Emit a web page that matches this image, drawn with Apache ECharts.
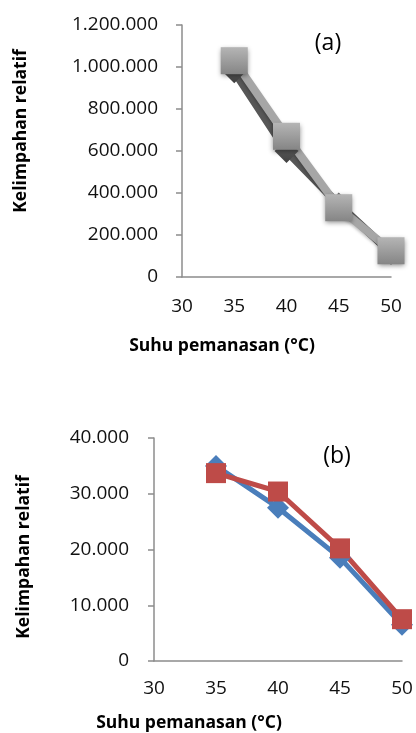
<!DOCTYPE html>
<html>
<head>
<meta charset="utf-8">
<script src="https://cdn.jsdelivr.net/npm/echarts@6/dist/echarts.min.js"></script>
<style>
  html, body { margin: 0; padding: 0; background: #fff; }
  #chart { width: 416px; height: 733px; }
</style>
</head>
<body>
<div id="chart"></div>
<script>
// Heating temperature (°C) on the x axis
const temperatures = [35, 40, 45, 50];
const xAxisMin = 30, xAxisMax = 50, xAxisStep = 5;

// Panel (a): relative abundance
const panelA_dark = [980000, 600000, 345000, 115000];
const panelA_light = [1030000, 670000, 330000, 125000];
const panelA_yMax = 1200000, panelA_yStep = 200000;

// Panel (b): relative abundance
const panelB_blue = [35000, 27500, 18500, 6500];
const panelB_red = [33700, 30400, 20200, 7500];
const panelB_yMax = 40000, panelB_yStep = 10000;

const yTitle = 'Kelimpahan relatif';
const xTitle = 'Suhu pemanasan (°C)';

const FONT = '"Open Sans", sans-serif';
const AXIS_COLOR = '#8c8c8c';

function pairs(xs, ys) { return xs.map((x, i) => [x, ys[i]]); }
function dotted(v) { return String(v).replace(/\B(?=(\d{3})+(?!\d))/g, '.'); }

function xAxisFor(gridIndex, margin) {
  return {
    type: 'value', gridIndex, min: xAxisMin, max: xAxisMax, interval: xAxisStep,
    axisLine: { show: true, onZero: false, lineStyle: { color: AXIS_COLOR, width: 1.5 } },
    axisTick: { show: false },
    splitLine: { show: false },
    axisLabel: { margin, color: '#111', fontFamily: FONT, fontSize: 19 }
  };
}
function yAxisFor(gridIndex, max, step, margin) {
  return {
    type: 'value', gridIndex, min: 0, max, interval: step,
    axisLine: { show: true, lineStyle: { color: AXIS_COLOR, width: 1.5 } },
    axisTick: { show: true, inside: false, length: 6, lineStyle: { color: AXIS_COLOR, width: 1.5 } },
    splitLine: { show: false },
    axisLabel: { margin, color: '#111', fontFamily: FONT, fontSize: 19, formatter: dotted }
  };
}

const grayMarker = new echarts.graphic.LinearGradient(0, 0, 0, 1, [
  { offset: 0, color: '#b5b5b5' }, { offset: 1, color: '#858585' }
]);
const darkMarker = new echarts.graphic.LinearGradient(0, 0, 0, 1, [
  { offset: 0, color: '#6e6e6e' }, { offset: 1, color: '#404040' }
]);

const chart = echarts.init(document.getElementById('chart'), null, { renderer: 'canvas' });

chart.setOption({
  animation: false,
  backgroundColor: '#fff',
  grid: [
    { left: 182, right: 25, top: 25, bottom: 456 },
    { left: 154, right: 14, top: 438, bottom: 72 }
  ],
  xAxis: [xAxisFor(0, 20), xAxisFor(1, 18)],
  yAxis: [
    yAxisFor(0, panelA_yMax, panelA_yStep, 24),
    yAxisFor(1, panelB_yMax, panelB_yStep, 25)
  ],
  series: [
    {
      type: 'line', xAxisIndex: 0, yAxisIndex: 0, clip: false,
      data: pairs(temperatures, panelA_dark),
      lineStyle: { color: '#575757', width: 8 },
      symbol: 'diamond', symbolSize: 24,
      itemStyle: { color: darkMarker }
    },
    {
      type: 'line', xAxisIndex: 0, yAxisIndex: 0, clip: false,
      data: pairs(temperatures, panelA_light),
      lineStyle: { color: '#a6a6a6', width: 8, shadowColor: 'rgba(0,0,0,0.25)', shadowBlur: 3, shadowOffsetY: 2 },
      symbol: 'rect', symbolSize: 27,
      itemStyle: { color: grayMarker, shadowColor: 'rgba(0,0,0,0.45)', shadowBlur: 5, shadowOffsetY: 2 }
    },
    {
      type: 'line', xAxisIndex: 1, yAxisIndex: 1, clip: false,
      data: pairs(temperatures, panelB_blue),
      lineStyle: { color: '#4a7ebb', width: 5 },
      symbol: 'diamond', symbolSize: 22,
      itemStyle: { color: '#4a7ebb' }
    },
    {
      type: 'line', xAxisIndex: 1, yAxisIndex: 1, clip: false,
      data: pairs(temperatures, panelB_red),
      lineStyle: { color: '#be4b48', width: 5 },
      symbol: 'rect', symbolSize: 20,
      itemStyle: { color: '#be4b48' }
    }
  ],
  graphic: [
    { type: 'text', x: 21, y: 131, rotation: Math.PI / 2,
      style: { text: yTitle, font: 'bold 17.5px ' + FONT, fill: '#000', align: 'center', verticalAlign: 'middle' } },
    { type: 'text', x: 222, y: 346,
      style: { text: xTitle, font: 'bold 17.5px ' + FONT, fill: '#000', align: 'center', verticalAlign: 'middle' } },
    { type: 'text', x: 328, y: 43,
      style: { text: '(a)', font: '23px ' + FONT, fill: '#000', align: 'center', verticalAlign: 'middle' } },
    { type: 'text', x: 24, y: 557, rotation: Math.PI / 2,
      style: { text: yTitle, font: 'bold 17.5px ' + FONT, fill: '#000', align: 'center', verticalAlign: 'middle' } },
    { type: 'text', x: 189, y: 723,
      style: { text: xTitle, font: 'bold 17.5px ' + FONT, fill: '#000', align: 'center', verticalAlign: 'middle' } },
    { type: 'text', x: 337, y: 456,
      style: { text: '(b)', font: '23px ' + FONT, fill: '#000', align: 'center', verticalAlign: 'middle' } }
  ]
});
</script>
</body>
</html>
